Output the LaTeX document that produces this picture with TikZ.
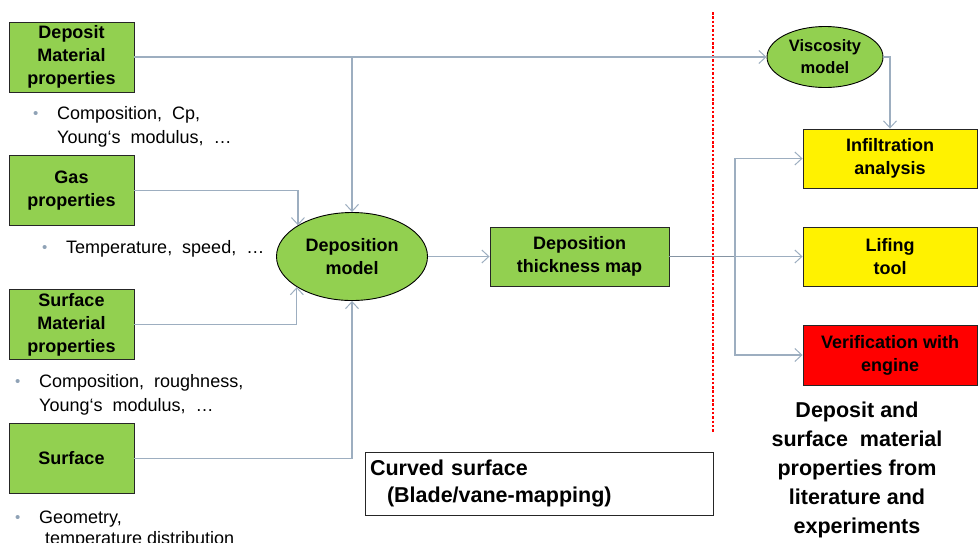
\documentclass[tikz,border=0pt]{standalone}
\usepackage{fontspec}
\setmainfont{Liberation Sans}
\usetikzlibrary{arrows.meta,shapes.geometric}
\definecolor{pgreen}{HTML}{92D050}
\definecolor{conncol}{HTML}{9DAEC0}
\definecolor{bulcol}{HTML}{8FA2B6}
\tikzset{
  gbox/.style={draw=black!85, line width=0.9pt, fill=pgreen, minimum width=125pt, minimum height=70pt, align=center, inner sep=2pt, font=\bfseries\fontsize{18}{23}\selectfont},
  rbox/.style={draw=black!85, line width=0.9pt, minimum width=174pt, minimum height=59pt, align=center, inner sep=2pt, font=\bfseries\fontsize{18}{23}\selectfont},
  gell/.style={ellipse, draw=black, line width=0.9pt, fill=pgreen, align=center, inner sep=0pt, font=\bfseries\fontsize{18}{23}\selectfont},
  conn/.style={draw=conncol, line width=1.2pt, -{Straight Barb[length=7pt,width=13pt,line width=1pt]}},
  plainconn/.style={draw=conncol, line width=1.2pt},
  bultxt/.style={anchor=base west, inner sep=0pt, font=\fontsize{18}{24}\selectfont},
  bulsym/.style={anchor=base west, inner sep=0pt, text=bulcol, font=\fontsize{15}{18}\selectfont},
}
\begin{document}
\begin{tikzpicture}[x=1pt,y=-1pt]
\useasboundingbox (0,0) rectangle (979,542);
% left boxes
\node[gbox] (dmp) at (71.5,57) {Deposit\\Material\\properties};
\node[gbox] (gas) at (71.5,190.5) {Gas\\properties};
\node[gbox] (smp) at (71.5,324.5) {Surface\\Material\\properties};
\node[gbox] (surf) at (71.5,458.5) {Surface};
% bullets
\node[bulsym] (b1) at (33,118) {•};
\node[bultxt] (t1a) at (57,119) {Composition,\ \ Cp,};
\node[bultxt] (t1b) at (57,143) {Young‘s\ \ modulus,\ \ …};
\node[bulsym] (b2) at (42,252) {•};
\node[bultxt] (t2a) at (66,253) {Temperature,\ \ speed,\ \ …};
\node[bulsym] (b3) at (15,386) {•};
\node[bultxt] (t3a) at (39,387) {Composition,\ \ roughness,};
\node[bultxt] (t3b) at (39,411) {Young‘s\ \ modulus,\ \ …};
\node[bulsym] (b4) at (15,522) {•};
\node[bultxt] (t4a) at (39,523) {Geometry,};
\node[bultxt] (t4b) at (45,544) {temperature distribution};
% middle
\node[gell, minimum width=151pt, minimum height=88pt] (depm) at (352,256.5) {Deposition\\model};
\node[gbox, minimum width=179pt, minimum height=59pt] (dtm) at (579.5,256.5) {Deposition\\thickness map};
% right
\node[gell, minimum width=116pt, minimum height=61pt, font=\bfseries\fontsize{16.5}{22}\selectfont] (visc) at (825,57) {Viscosity\\model};
\node[rbox, fill=yellow] (infil) at (890,158.5) {Infiltration\\analysis};
\node[rbox, fill=yellow] (lif) at (890,256.5) {Lifing\\tool};
\node[rbox, fill=red, minimum height=60pt] (verif) at (890,355) {Verification with\\engine};
% separator
\draw[red, line width=1.1pt, dash pattern=on 2.5pt off 1.8pt] (713,12) -- (713,432);
% bottom texts
\node[draw=black!85, line width=0.9pt, minimum width=348pt, minimum height=63pt, text width=338pt, align=left, inner sep=0pt, font=\bfseries\fontsize{21.5}{27}\selectfont] (curved) at (539,483.5) {Curved surface\\\hspace*{17pt}(Blade/vane-mapping)};
\node[align=center, inner sep=0pt, font=\bfseries\fontsize{21.5}{29}\selectfont] (src) at (857,470) {Deposit and\\surface\ \ material\\properties from\\literature and\\experiments};
% connectors
\draw[conn] (dmp.east) -| (depm.north);
\draw[conn] (dmp.east) -- (visc.west);
\draw[conn] (gas.east) -| (depm.150.3);
\draw[conn] (smp.east) -| (depm.209.7);
\draw[conn] (surf.east) -| (depm.south);
\draw[conn] (depm.east) -- (dtm.west);
\coordinate (split) at (735,256.5);
\draw[plainconn, line width=1.8pt, draw=conncol!85!black] (dtm.east) -- (split);
\draw[conn] (split) -- (lif.west);
\draw[conn] (split) |- (infil.west);
\draw[conn] (split) |- (verif.west);
\draw[conn] (visc.east) -| (infil.north);
\end{tikzpicture}
\end{document}
